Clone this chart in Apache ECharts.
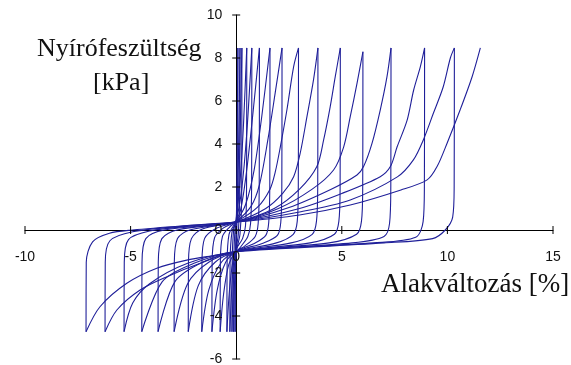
<!DOCTYPE html>
<html>
<head>
<meta charset="utf-8">
<script src="https://cdn.jsdelivr.net/npm/echarts@6/dist/echarts.min.js"></script>
<style>
  html, body { margin: 0; padding: 0; background: #fff; }
  #chart { width: 571px; height: 365px; }
</style>
</head>
<body>
<div id="chart"></div>
<script>
// Cyclic simple-shear test: shear stress [kPa] vs. shear strain [%]
const strainTicks = [-10, -5, 0, 5, 10, 15];
const stressTicks = [-6, -4, -2, 0, 2, 4, 6, 8, 10];

// Loading branches (towards positive strain), in test order
const loadingPaths = [
  [[0, 0], [0.03, 2], [0.08, 8.47]],
  [[-0.05, -4.73], [-0.04, -1.5], [0, 0.3], [0.1, 3], [0.18, 8.47]],
  [[-0.12, -4.73], [-0.11, -1.5], [-0.05, 0.1], [0.05, 0.6], [0.15, 3], [0.27, 8.47]],
  [[-0.2, -4.73], [-0.19, -1.5], [-0.12, 0], [0, 0.5], [0.2, 2.5], [0.35, 5], [0.5, 8.47]],
  [[-0.3, -4.73], [-0.29, -1.5], [-0.2, -0.1], [0, 0.4], [0.25, 1.8], [0.5, 4.5], [0.74, 8.47]],
  [[-0.44, -4.73], [-0.43, -1.5], [-0.34, -0.2], [-0.1, 0.25], [0.2, 0.9], [0.5, 2.8], [0.8, 5.5], [1.1, 8.47]],
  [[-0.76, -4.73], [-0.75, -1.5], [-0.65, -0.3], [-0.3, 0.15], [0, 0.4], [0.45, 1.2], [0.85, 2.8], [1.2, 5.2], [1.6, 8.47]],
  [[-1.15, -4.73], [-1.14, -1.5], [-1.02, -0.35], [-0.6, 0.1], [0, 0.4], [0.7, 1.1], [1.1, 2.1], [1.5, 4.2], [1.85, 6.4], [2.17, 8.47]],
  [[-1.63, -4.73], [-1.62, -1.5], [-1.5, -0.4], [-1.0, 0.05], [0, 0.4], [1.0, 1.05], [1.6, 1.9], [1.85, 2.7], [2.09, 3.87], [2.4, 5.58], [2.72, 7.6], [2.95, 8.47]],
  [[-2.27, -4.73], [-2.26, -1.5], [-2.12, -0.4], [-1.6, 0.05], [0, 0.38], [1.4, 1.0], [2.2, 1.7], [2.72, 2.48], [3.03, 3.57], [3.35, 5.27], [3.66, 6.98], [3.87, 8.47]],
  [[-2.94, -4.73], [-2.93, -1.5], [-2.78, -0.4], [-2.2, 0.0], [0, 0.37], [1.8, 1.0], [3.0, 1.9], [3.82, 2.95], [4.14, 4.19], [4.45, 5.73], [4.69, 7.13], [4.93, 8.47]],
  [[-3.7, -4.73], [-3.69, -1.5], [-3.52, -0.4], [-2.8, 0.0], [0, 0.37], [2.0, 1.0], [3.6, 1.9], [4.61, 2.79], [5.09, 3.87], [5.4, 5.27], [5.72, 6.82], [6.0, 8.29]],
  [[-4.47, -4.73], [-4.46, -1.5], [-4.28, -0.4], [-3.4, 0.0], [0, 0.37], [2.5, 1.05], [4.5, 1.9], [5.72, 2.56], [6.03, 2.95], [6.43, 4.03], [6.82, 5.58], [7.14, 7.13], [7.33, 8.47]],
  [[-5.31, -4.73], [-5.3, -1.5], [-5.1, -0.45], [-4.1, -0.05], [-2, 0.2], [0, 0.37], [3.0, 1.0], [5.0, 1.7], [6.82, 2.48], [7.3, 2.95], [7.62, 3.87], [8.09, 5.1], [8.4, 6.5], [8.72, 7.6], [8.92, 8.47]],
  [[-6.21, -4.73], [-6.2, -1.5], [-5.98, -0.5], [-4.9, -0.08], [-2.5, 0.18], [0, 0.37], [3.0, 0.84], [5.4, 1.4], [7.63, 2.47], [8.39, 3.26], [8.86, 4.19], [9.34, 5.44], [9.8, 6.65], [10.14, 8.0], [10.33, 8.47]],
  [[-7.11, -4.73], [-7.1, -1.5], [-6.8, -0.55], [-6.0, -0.15], [-4.9, 0.0], [-2.5, 0.2], [0, 0.37], [3.0, 0.7], [5.4, 1.16], [7.8, 1.86], [9.04, 2.33], [9.51, 2.95], [9.99, 4.05], [10.6, 5.58], [11.17, 7.13], [11.56, 8.47]]
];

// Unloading / reverse branches (towards negative strain), in test order
const unloadingPaths = [
  [[0.08, 8.47], [0.07, 2], [0.02, -0.3], [-0.03, -1.5], [-0.05, -4.73]],
  [[0.18, 8.47], [0.17, 2], [0.1, -0.2], [0, -0.9], [-0.08, -2.5], [-0.12, -4.73]],
  [[0.27, 8.47], [0.26, 1.5], [0.18, -0.2], [0.05, -0.8], [-0.1, -1.8], [-0.2, -4.73]],
  [[0.5, 8.47], [0.49, 2], [0.44, 0.2], [0.3, -0.4], [0, -0.9], [-0.15, -1.8], [-0.3, -4.73]],
  [[0.74, 8.47], [0.73, 2], [0.68, 0.3], [0.55, -0.3], [0.2, -0.8], [-0.1, -1.2], [-0.3, -2.6], [-0.44, -4.73]],
  [[1.1, 8.47], [1.09, 2], [1.04, 0.3], [0.9, -0.3], [0.4, -0.75], [0, -1.0], [-0.35, -1.6], [-0.6, -3.0], [-0.76, -4.73]],
  [[1.6, 8.47], [1.59, 2], [1.54, 0.35], [1.4, -0.25], [0.9, -0.6], [0, -1.0], [-0.5, -1.5], [-0.9, -2.8], [-1.15, -4.73]],
  [[2.17, 8.47], [2.16, 2], [2.11, 0.35], [1.95, -0.25], [1.3, -0.6], [0, -1.0], [-0.7, -1.5], [-1.3, -2.8], [-1.63, -4.73]],
  [[2.95, 8.47], [2.94, 2], [2.89, 0.4], [2.7, -0.2], [1.9, -0.6], [0, -1.0], [-1.0, -1.5], [-1.8, -2.6], [-2.27, -4.73]],
  [[3.87, 8.47], [3.86, 2], [3.8, 0.4], [3.6, -0.2], [2.6, -0.6], [0, -1.0], [-1.3, -1.5], [-2.3, -2.5], [-2.94, -4.73]],
  [[4.93, 8.47], [4.92, 2], [4.86, 0.4], [4.65, -0.2], [3.5, -0.6], [0, -1.0], [-1.6, -1.5], [-2.9, -2.4], [-3.7, -4.73]],
  [[6.0, 8.29], [5.99, 2], [5.93, 0.4], [5.7, -0.2], [4.4, -0.6], [0, -1.0], [-2.0, -1.55], [-3.5, -2.4], [-4.47, -4.73]],
  [[7.33, 8.47], [7.32, 2], [7.26, 0.3], [7.0, -0.3], [5.5, -0.6], [0, -1.0], [-2.3, -1.55], [-4.1, -2.5], [-4.9, -3.4], [-5.31, -4.73]],
  [[8.92, 8.47], [8.91, 2], [8.85, 0.39], [8.5, -0.34], [6.5, -0.6], [0, -1.0], [-1.7, -1.55], [-3.28, -2.17], [-4.55, -2.79], [-5.65, -3.72], [-6.21, -4.73]],
  [[10.33, 8.47], [10.32, 2], [10.25, 0.6], [9.9, 0.0], [9.3, -0.4], [7, -0.6], [0, -1.0], [-0.91, -1.16], [-2.34, -1.4], [-3.76, -1.78], [-5.18, -2.48], [-6.45, -3.57], [-7.11, -4.73]]
];

const lineColor = '#1f1f99';
const tickFontCss = '14px "Liberation Sans", Arial, sans-serif';
const titleFontCss = '26px "Liberation Serif", "Times New Roman", serif';
const xTitleFontCss = '27px "Liberation Serif", "Times New Roman", serif';

// Interleave the branches: load, unload, load, ...
const branches = [];
loadingPaths.forEach((path, i) => {
  branches.push(path);
  if (unloadingPaths[i]) branches.push(unloadingPaths[i]);
});

const series = branches.map((path) => ({
  type: 'line',
  data: path,
  showSymbol: false,
  smooth: 0.3,
  lineStyle: { color: lineColor, width: 1.1 },
  silent: true,
  animation: false
}));

const xMin = strainTicks[0], xMax = strainTicks[strainTicks.length - 1];
const xStep = strainTicks[1] - strainTicks[0];
const yMin = stressTicks[0], yMax = stressTicks[stressTicks.length - 1];
const yStep = stressTicks[1] - stressTicks[0];

const titles = [
  { type: 'text', left: 37, top: 36, silent: true, z: 10,
    style: { text: 'Nyírófeszültség', font: titleFontCss, fill: '#111' } },
  { type: 'text', left: 93, top: 70, silent: true, z: 10,
    style: { text: '[kPa]', font: titleFontCss, fill: '#111' } },
  { type: 'text', left: 381, top: 271, silent: true, z: 10,
    style: { text: 'Alakváltozás [%]', font: xTitleFontCss, fill: '#111' } }
];

const chart = echarts.init(document.getElementById('chart'), null, { renderer: 'canvas' });
chart.setOption({
  backgroundColor: '#ffffff',
  animation: false,
  grid: { left: 25, right: 18, top: 15, bottom: 6, containLabel: false, outerBoundsMode: 'none' },
  xAxis: {
    type: 'value', min: xMin, max: xMax, interval: xStep,
    axisLine: { onZero: true, lineStyle: { color: '#000', width: 1 } },
    axisTick: { show: false },
    axisLabel: { show: false },
    splitLine: { show: false }
  },
  yAxis: {
    type: 'value', min: yMin, max: yMax, interval: yStep,
    axisLine: { onZero: true, lineStyle: { color: '#000', width: 1 } },
    axisTick: { show: false },
    axisLabel: { show: false },
    splitLine: { show: false }
  },
  graphic: titles,
  series: series
});

// Crossing tick marks and tick labels placed on the axes that pass through the origin
const tickHalf = 4;
const marks = [];
strainTicks.forEach((v) => {
  const p = chart.convertToPixel({ gridIndex: 0 }, [v, 0]);
  marks.push({ type: 'line', silent: true, z: 5,
    shape: { x1: p[0], y1: p[1] - tickHalf, x2: p[0], y2: p[1] + tickHalf },
    style: { stroke: '#000', lineWidth: 1 } });
  marks.push({ type: 'text', silent: true, z: 5, x: p[0], y: p[1] + 27,
    style: { text: String(v), font: tickFontCss, fill: '#111', align: 'center', verticalAlign: 'middle' } });
});
stressTicks.forEach((v) => {
  const p = chart.convertToPixel({ gridIndex: 0 }, [0, v]);
  marks.push({ type: 'line', silent: true, z: 5,
    shape: { x1: p[0] - tickHalf, y1: p[1], x2: p[0] + tickHalf, y2: p[1] },
    style: { stroke: '#000', lineWidth: 1 } });
  marks.push({ type: 'text', silent: true, z: 5, x: p[0] - 14, y: p[1],
    style: { text: String(v), font: tickFontCss, fill: '#111', align: 'right', verticalAlign: 'middle' } });
});

chart.setOption({ graphic: titles.concat(marks) }, { replaceMerge: ['graphic'] });
</script>
</body>
</html>
